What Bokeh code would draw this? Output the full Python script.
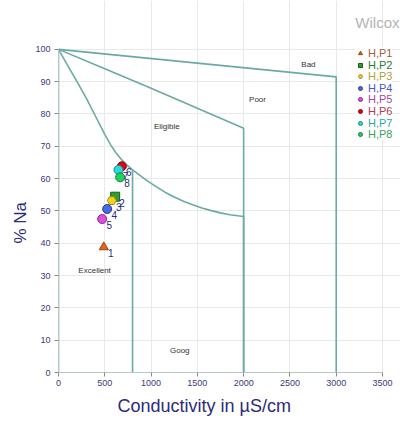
from bokeh.plotting import figure
from bokeh.models import Range1d, Legend, LegendItem, Label, FixedTicker, ColumnDataSource, Title
from bokeh.core.properties import value
from bokeh.embed import file_html
from bokeh.resources import INLINE

# ---- data ----
names = ["H,P1", "H,P2", "H,P3", "H,P4", "H,P5", "H,P6", "H,P7", "H,P8"]
point_labels = ["1", "2", "3", "4", "5", "6", "7", "8"]
ec = [489, 612, 576, 526, 472, 684, 648, 666]
na = [38.8, 54.4, 53.2, 50.6, 47.5, 63.8, 62.7, 60.4]
markers = ["triangle", "square", "hex", "circle", "circle", "circle", "circle", "circle"]
fill_colors = ["#e8641e", "#2ea02e", "#f2d21a", "#4a68e0", "#e24ae6", "#e60012", "#22dede", "#22d060"]
line_colors = ["#9a4010", "#1a5a1a", "#9a8a10", "#2a3a90", "#8a2a8a", "#8a0010", "#1a8a8a", "#1a7a3a"]
legend_text_colors = ["#a0603a", "#2a7a3a", "#b0a030", "#4a58c0", "#a04aa8", "#a83a5a", "#2aa8a8", "#3aa060"]

bad_x = [0, 3000, 3000]
bad_y = [100, 91.5, 0]
poor_x = [0, 500, 1000, 1500, 2000, 2000]
poor_y = [100, 94.0, 88.0, 81.8, 75.6, 0]
elig_x = [0, 100, 200, 300, 400, 500, 560, 620, 680, 740, 800, 880, 960, 1050, 1150, 1250,
          1350, 1450, 1550, 1650, 1750, 1850, 2000, 2000]
elig_y = [100, 95.0, 90.0, 84.9, 79.3, 73.7, 70.6, 68.0, 65.9, 64.2, 62.7, 61.0, 59.3, 57.6, 55.8, 54.3,
          53.0, 51.9, 50.9, 50.1, 49.4, 48.8, 48.3, 0]
good_x = [800, 800]
good_y = [62.7, 0]
left_x = [0, 0]
left_y = [0, 100]

zone_names = ["Bad", "Poor", "Eligible", "Excellent", "Goog"]
zone_x = [2700, 2150, 1170, 390, 1310]
zone_y = [95.4, 84.6, 76.2, 31.5, 6.8]

x_ticks = [0, 500, 1000, 1500, 2000, 2500, 3000, 3500]
y_ticks = [0, 10, 20, 30, 40, 50, 60, 70, 80, 90, 100]

FONT = "Liberation Sans"
NAVY = "#2b2b7c"
TEAL = "#6aaaa2"

W, H = 400, 420
BL, BR, BT, BB = 58, 0, 0, 47
frame_w = W - BL - BR
frame_h = H - BT - BB
px_per_x = 324 / 3500.0
px_per_y = 324 / 100.0

p = figure(width=W, height=H, output_backend="svg", toolbar_location=None,
           x_range=Range1d(0, frame_w / px_per_x), y_range=Range1d(0, frame_h / px_per_y),
           min_border_left=BL, min_border_right=BR, min_border_top=BT, min_border_bottom=BB)
p.outline_line_color = None
p.background_fill_color = "white"
p.border_fill_color = "white"

# axes
for ax, ticks in ((p.xaxis, x_ticks), (p.yaxis, y_ticks)):
    ax.ticker = FixedTicker(ticks=ticks)
    ax.axis_line_color = "#b8c8c8"
    ax.major_tick_line_color = "#888888"
    ax.minor_tick_line_color = None
    ax.major_tick_out = 4
    ax.major_tick_in = 0
    ax.major_label_text_font = FONT
    ax.major_label_text_font_size = "9px"
    ax.major_label_text_color = "#3a3a7a"
p.xaxis.bounds = (0, 3500)
p.yaxis.bounds = (0, 100)
p.xaxis.major_label_standoff = 3
p.yaxis.major_label_standoff = 4

# grid
p.xgrid.ticker = FixedTicker(ticks=x_ticks)
p.ygrid.ticker = FixedTicker(ticks=y_ticks)
p.xgrid.bounds = (0, 100)
p.ygrid.bounds = (0, 3500)
p.grid.grid_line_color = "#e9e9e9"
p.grid.grid_line_width = 1

# axis titles
p.add_layout(Title(text="Conductivity in µS/cm", align="left", offset=59,
                   text_font=FONT, text_font_size="18px", text_font_style="normal",
                   text_color=NAVY, standoff=10), "below")
p.add_layout(Title(text="% Na", align="left", offset=129,
                   text_font=FONT, text_font_size="17px", text_font_style="normal",
                   text_color=NAVY, standoff=5), "left")

# boundary lines
for xs, ys in ((bad_x, bad_y), (poor_x, poor_y), (elig_x, elig_y), (good_x, good_y), (left_x, left_y)):
    p.line(xs, ys, line_color=TEAL, line_width=1.6)

# zone labels
p.text(x=zone_x, y=zone_y, text=zone_names, text_font=value(FONT), text_font_size="8px",
       text_color="#333333", text_align="center", text_baseline="middle")

# points
renderers = []
for i in range(len(names)):
    src = ColumnDataSource(dict(x=[ec[i]], y=[na[i]], t=[point_labels[i]]))
    r = p.scatter("x", "y", source=src, marker=markers[i], size=9,
                  fill_color=fill_colors[i], line_color=line_colors[i], line_width=1)
    p.text("x", "y", text="t", source=src, x_offset=7, y_offset=6, text_font=value(FONT),
           text_font_size="10px", text_color=NAVY, text_align="center", text_baseline="middle")
    renderers.append(r)

# legends, one per item so each label has its own colour
for i in range(len(names)):
    lg = Legend(items=[LegendItem(label=names[i], renderers=[renderers[i]])],
                location=(297, frame_h - 60 - i * 11.6),
                label_text_font=FONT, label_text_font_size="11px",
                label_text_color=legend_text_colors[i],
                label_height=11, glyph_height=10, glyph_width=10, label_standoff=3,
                padding=1, margin=0, spacing=0, border_line_color=None,
                background_fill_color="white", background_fill_alpha=1.0)
    p.add_layout(lg, "center")

# chart title
p.add_layout(Label(x=frame_w - 1, y=frame_h - 23, x_units="screen", y_units="screen",
                   text="Wilcox", text_font=FONT, text_font_size="15px",
                   text_color="#b4b4b4", text_align="right", text_baseline="middle"))

open("out.html", "w").write(file_html(p, INLINE))
